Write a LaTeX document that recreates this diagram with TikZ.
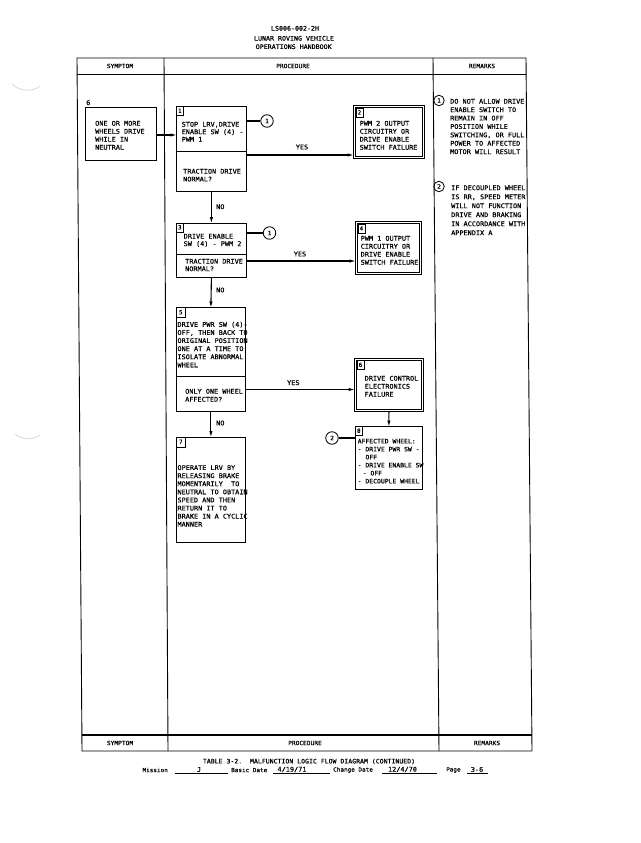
\documentclass[tikz,border=0pt]{standalone}
\usepackage{fontspec}
\usetikzlibrary{arrows.meta,calc}
\newfontfamily\lr[FakeStretch=1.07,FakeBold=0.5]{DejaVu Sans Mono}
\newcommand\lrs[2]{\lr\fontsize{#1}{#2}\selectfont}
\begin{document}
\begin{tikzpicture}[x=1pt,y=-1pt,
  tbl/.style={line width=0.9pt},
  thk/.style={line width=1.7pt},
  box/.style={draw, line width=0.8pt, anchor=north west, inner sep=0pt},
  dbox/.style={draw, line width=0.9pt, anchor=north west, inner sep=0pt},
  inner/.style={line width=0.6pt},
  lbl/.style={draw, line width=0.6pt, anchor=north west, minimum width=7pt, minimum height=9pt, inner sep=0pt, font=\lrs{5.6}{6}},
  circ/.style={draw, circle, line width=0.8pt, minimum size=12.5pt, inner sep=0pt, font=\lrs{6}{6}},
  txt/.style={anchor=north west, inner sep=0pt, align=left, font=\lrs{6.4}{8}},
  lab/.style={inner sep=0pt, font=\lrs{6.4}{8}},
  small/.style={inner sep=0pt, font=\lrs{5.6}{8}},
  arr/.style={line width=1.1pt, -{Triangle[length=5.5pt,width=2.8pt]}},
  con/.style={line width=1.1pt},
  divl/.style={line width=0.8pt},
  scan/.style={gray!30, line width=0.8pt}]
\useasboundingbox (0,0) rectangle (640,843);
\fill[white] (0,0) rectangle (640,843);

% scan marks
\draw[scan] (12,84) .. controls (20,92) and (32,92) .. (40,86);
\draw[scan] (15,434) .. controls (22,440) and (33,440) .. (40,435);

% page header
\node[lab, font=\lrs{6.2}{8}] (h1) at (295,28.3) {LS006-002-2H};
\node[lab, font=\lrs{6.2}{8}] (h2) at (294,38.3) {LUNAR ROVING VEHICLE};
\node[lab, font=\lrs{6.2}{8}] (h3) at (293.7,46.7) {OPERATIONS HANDBOOK};

% table frame
\draw[tbl] (77,58) -- (526,58) -- (532,751) -- (82,751) -- cycle;
\draw[thk] (77.1,74.5) -- (526.1,74.5);
\draw[thk] (81.9,735) -- (531.9,735);
\draw[tbl] (164,58) -- (168,751);
\draw[tbl] (433,58) -- (439,751);
\node[lab, font=\lrs{5.8}{8}] (th1) at (120,66) {SYMPTOM};
\node[lab, font=\lrs{5.8}{8}] (th2) at (293,66) {PROCEDURE};
\node[lab, font=\lrs{5.8}{8}] (th3) at (482,66) {REMARKS};
\node[lab, font=\lrs{5.8}{8}] (tf1) at (120,743) {SYMPTOM};
\node[lab, font=\lrs{5.8}{8}] (tf2) at (305,743) {PROCEDURE};
\node[lab, font=\lrs{5.8}{8}] (tf3) at (487,743) {REMARKS};

% symptom
\node[lab, anchor=west] (snum) at (86,102.7) {6};
\node[box, minimum width=71pt, minimum height=53pt] (s) at (85,107) {};
\node[txt] (st) at (95,120.7) {ONE OR MORE\\WHEELS DRIVE\\WHILE IN\\NEUTRAL};

% box 1
\node[box, minimum width=70pt, minimum height=85pt] (b1) at (176,106) {};
\node[lbl] (b1n) at (b1.north west) {1};
\draw[divl] (b1.west |- 0,151) -- (b1.east |- 0,151);
\node[txt, font=\lrs{6.4}{7.5}] (b1t) at (181.5,121.7) {STOP LRV,DRIVE\\ENABLE SW (4) -\\PWM 1};
\node[txt, font=\lrs{6.4}{7.8}] (b1q) at (183,168.7) {TRACTION DRIVE\\NORMAL?};
\node[circ] (c1a) at (267,121) {1};
\draw[con] (b1.east |- c1a) -- (c1a);

% box 2
\node[dbox, minimum width=71pt, minimum height=53pt] (b2) at (353,105) {};
\draw[inner] ([shift={(2.6,2.6)}]b2.north west) rectangle ([shift={(-2.6,-2.6)}]b2.south east);
\node[lbl] (b2n) at ([shift={(2.6,2.6)}]b2.north west) {2};
\node[txt] (b2t) at (359.5,120.7) {PWM 2 OUTPUT\\CIRCUITRY OR\\DRIVE ENABLE\\SWITCH FAILURE};
\coordinate (y1) at (0,155);
\draw[arr] (b1.east |- y1) -- (b2.west |- y1);
\node[lab] (yes1) at (302,147) {YES};

% box 3
\node[box, minimum width=70pt, minimum height=54.5pt] (b3) at (176,222.5) {};
\node[lbl] (b3n) at (b3.north west) {3};
\draw[divl] (b3.west |- 0,254) -- (b3.east |- 0,254);
\node[txt, font=\lrs{6.4}{7.5}] (b3t) at (183.5,233.7) {DRIVE ENABLE\\SW (4) - PWM 2};
\node[txt, font=\lrs{6.4}{7.5}] (b3q) at (185,258.7) {TRACTION DRIVE\\NORMAL?};
\node[circ] (c1b) at (269.5,233) {1};
\draw[con] (b3.east |- c1b) -- (c1b);
\draw[arr] (b1.south) -- (b3.north);
\node[lab, anchor=west] (no1) at (216,206.7) {NO};

% box 4
\node[dbox, minimum width=66pt, minimum height=53pt] (b4) at (355,221) {};
\draw[inner] ([shift={(2.6,2.6)}]b4.north west) rectangle ([shift={(-2.6,-2.6)}]b4.south east);
\node[lbl] (b4n) at ([shift={(2.6,2.6)}]b4.north west) {4};
\node[txt] (b4t) at (360.5,235.7) {PWM 1 OUTPUT\\CIRCUITRY OR\\DRIVE ENABLE\\SWITCH FAILURE};
\coordinate (y2) at (0,261);
\draw[arr] (b3.east |- y2) -- (b4.west |- y2);
\node[lab] (yes2) at (300,254) {YES};

% box 5
\node[box, minimum width=69pt, minimum height=103.5pt] (b5) at (176,307) {};
\node[lbl, minimum width=9pt, minimum height=10pt] (b5n) at (b5.north west) {5};
\draw[divl] (b5.west |- 0,376) -- (b5.east |- 0,376);
\node[txt, font=\lrs{6.4}{8.1}] (b5t) at (177.3,321.7) {DRIVE PWR SW (4)-\\OFF, THEN BACK TO\\ORIGINAL POSITION\\ONE AT A TIME TO\\ISOLATE ABNORMAL\\WHEEL};
\node[txt] (b5q) at (185,388.7) {ONLY ONE WHEEL\\AFFECTED?};
\draw[arr] (b3.south) -- (b5.north);
\node[lab, anchor=west] (no2) at (216,290) {NO};

% box 6
\node[dbox, minimum width=69pt, minimum height=53pt] (b6) at (354,357.5) {};
\draw[inner] ([shift={(2.6,2.6)}]b6.north west) rectangle ([shift={(-2.6,-2.6)}]b6.south east);
\node[lbl] (b6n) at ([shift={(2.6,2.6)}]b6.north west) {6};
\node[txt] (b6t) at (364.5,375.7) {DRIVE CONTROL\\ELECTRONICS\\FAILURE};
\coordinate (y3) at (0,389.5);
\draw[arr] (b5.east |- y3) -- (b6.west |- y3);
\node[lab] (yes3) at (293.3,382.7) {YES};

% box 7
\node[box, minimum width=69pt, minimum height=105.5pt] (b7) at (176,436.5) {};
\node[lbl, minimum width=9pt, minimum height=10pt] (b7n) at (b7.north west) {7};
\node[txt, font=\lrs{6.4}{8.1}] (b7t) at (177.3,465) {OPERATE LRV BY\\RELEASING BRAKE\\MOMENTARILY\ \ TO\\NEUTRAL TO OBTAIN\\SPEED AND THEN\\RETURN IT TO\\BRAKE IN A CYCLIC\\MANNER};
\draw[arr] (b5.south) -- (b7.north);
\node[lab, anchor=west] (no3) at (216,423) {NO};

% box 8
\node[box, minimum width=67pt, minimum height=63pt] (b8) at (355,426) {};
\node[lbl] (b8n) at (b8.north west) {8};
\node[txt, font=\lrs{6.0}{8}] (b8t) at (357.5,438.7) {AFFECTED WHEEL:\\- DRIVE PWR SW -\\\hspace*{7.8pt}OFF\\- DRIVE ENABLE SW\\\hspace*{5pt}- OFF\\- DECOUPLE WHEEL};
\draw[arr] (b6.south) -- (b8.north);
\node[circ] (c2) at (332,438) {2};
\draw[con] (c2) -- (c2 -| b8.west);

% symptom arrow
\draw[arr] (s.east |- 0,135) -- (b1.west |- 0,135);

% remarks
\node[circ, minimum size=10.5pt] (r1) at (439,100.5) {1};
\node[txt, font=\lrs{6.4}{8.4}] (r1t) at (450,98.7) {DO NOT ALLOW DRIVE\\ENABLE SWITCH TO\\REMAIN IN OFF\\POSITION WHILE\\SWITCHING, OR FULL\\POWER TO AFFECTED\\MOTOR WILL RESULT};
\node[circ, minimum size=10.5pt] (r2) at (439,186.5) {2};
\node[txt, font=\lrs{6.4}{9}] (r2t) at (451,185.2) {IF DECOUPLED WHEEL\\IS RR, SPEED METER\\WILL NOT FUNCTION\\DRIVE AND BRAKING\\IN ACCORDANCE WITH\\APPENDIX A};

% footer
\node[lab, font=\lrs{6.1}{8}] (cap) at (309,761.5) {TABLE 3-2.\ \ MALFUNCTION LOGIC FLOW DIAGRAM (CONTINUED)};
\node[small, anchor=east] (fm) at (168,770) {Mission};
\draw[line width=0.6pt] (175,773.5) -- (228,773.5);
\node[lab] (fj) at (199,769.5) {J};
\node[small, anchor=west] (fb) at (231,770) {Basic Date};
\draw[line width=0.6pt] (273,773.5) -- (330,773.5);
\node[lab] (fbd) at (292,769.5) {4/19/71};
\node[small, anchor=west] (fc) at (333,770) {Change Date};
\draw[line width=0.6pt] (382,773.5) -- (437,773.5);
\node[lab] (fcd) at (402.5,769.5) {12/4/70};
\node[small, anchor=west] (fp) at (446,770) {Page};
\draw[line width=0.6pt] (467,773.5) -- (488,773.5);
\node[lab] (fpn) at (477,769.5) {3-6};
\end{tikzpicture}
\end{document}
